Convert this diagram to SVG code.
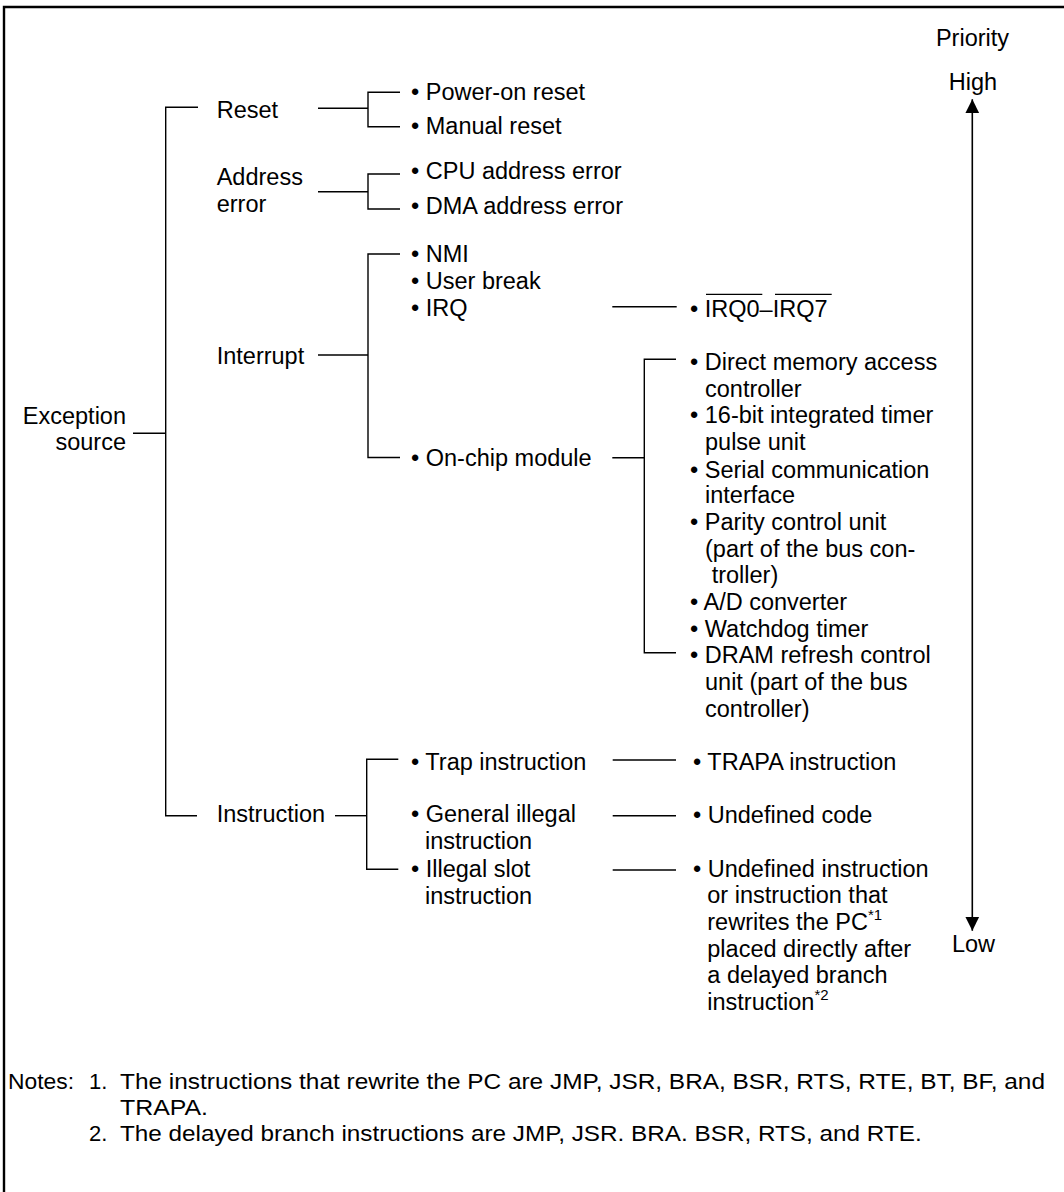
<svg xmlns="http://www.w3.org/2000/svg" width="1064" height="1192" viewBox="0 0 1064 1192">
<style>
text{font-family:"Liberation Sans",Arial,sans-serif;font-size:23.5px;fill:#000}
.n{font-size:22px}
.sup{font-size:15px}
.c line,.c polyline{stroke:#000;stroke-width:1.4;fill:none}
.ov{stroke:#000;stroke-width:1.3}
</style>
<defs>
<marker id="ah" viewBox="0 0 14 16" refX="14" refY="8" markerWidth="14" markerHeight="16" markerUnits="userSpaceOnUse" orient="auto">
<path d="M0,1 L14,8 L0,15 Z" fill="#000"/>
</marker>
</defs>
<rect x="0" y="0" width="1064" height="1192" fill="#fff"/>
<path d="M4,1192 V7 H1064" fill="none" stroke="#000" stroke-width="2.4"/>

<g class="c" id="connectors">
<polyline points="198,107.3 165.7,107.3 165.7,815.7 197,815.7"/>
<line x1="133" y1="433.3" x2="165.7" y2="433.3"/>
<line x1="318" y1="108.3" x2="368" y2="108.3"/>
<polyline points="400,92.3 368,92.3 368,126.7 400,126.7"/>
<line x1="318" y1="191.7" x2="368" y2="191.7"/>
<polyline points="400,174 368,174 368,209 400,209"/>
<line x1="318" y1="355" x2="368" y2="355"/>
<polyline points="400,254 368,254 368,457.5 400,457.5"/>
<line x1="612.3" y1="306.7" x2="676.7" y2="306.7"/>
<line x1="612.3" y1="457.7" x2="644.3" y2="457.7"/>
<polyline points="676,359.3 644.3,359.3 644.3,652.7 676,652.7"/>
<line x1="335" y1="815.7" x2="366.7" y2="815.7"/>
<polyline points="398.3,759.3 366.7,759.3 366.7,869.3 398.3,869.3"/>
<line x1="612.7" y1="760" x2="676" y2="760"/>
<line x1="612.7" y1="815.7" x2="676" y2="815.7"/>
<line x1="612.7" y1="870" x2="676" y2="870"/>
<line x1="972.3" y1="520" x2="972.3" y2="99.3" marker-end="url(#ah)" style="stroke-width:1.6"/>
<line x1="972.3" y1="520" x2="972.3" y2="930.7" marker-end="url(#ah)" style="stroke-width:1.6"/>
</g>

<g id="exception-source"><text x="126" y="424" text-anchor="end">Exception</text><text x="126" y="450" text-anchor="end">source</text></g>
<g id="reset"><text x="216.7" y="118.3">Reset</text></g>
<g id="address-error"><text x="216.7" y="185">Address</text><text x="216.7" y="211.7">error</text></g>
<g id="interrupt"><text x="216.7" y="364">Interrupt</text></g>
<g id="instruction"><text x="216.7" y="821.7">Instruction</text></g>

<g id="power-on-reset"><text x="411" y="100">• Power-on reset</text></g>
<g id="manual-reset"><text x="411" y="134.3">• Manual reset</text></g>
<g id="cpu-address-error"><text x="411" y="179.3">• CPU address error</text></g>
<g id="dma-address-error"><text x="411" y="214.3">• DMA address error</text></g>
<g id="nmi"><text x="411" y="262">• NMI</text></g>
<g id="user-break"><text x="411" y="289">• User break</text></g>
<g id="irq"><text x="411" y="316">• IRQ</text></g>
<g id="on-chip"><text x="411" y="465.5">• On-chip module</text></g>

<g id="irq0-7"><text x="690" y="316.7">• IRQ0–IRQ7</text>
<line class="ov" x1="706" y1="294.3" x2="762.3" y2="294.3"/><line class="ov" x1="775" y1="294.3" x2="831.7" y2="294.3"/></g>

<g id="modules">
<text x="690" y="370">• Direct memory access</text>
<text x="705" y="396.7">controller</text>
<text x="690" y="423.3">• 16-bit integrated timer</text>
<text x="705" y="450">pulse unit</text>
<text x="690" y="477.7">• Serial communication</text>
<text x="705" y="503.3">interface</text>
<text x="690" y="530">• Parity control unit</text>
<text x="705" y="556.7">(part of the bus con-</text>
<text x="711.7" y="583.3">troller)</text>
<text x="690" y="610">• A/D converter</text>
<text x="690" y="636.7">• Watchdog timer</text>
<text x="690" y="663.3">• DRAM refresh control</text>
<text x="705" y="690">unit (part of the bus</text>
<text x="705" y="716.7">controller)</text>
</g>

<g id="trap-instruction"><text x="411" y="770">• Trap instruction</text></g>
<g id="general-illegal"><text x="411" y="821.7">• General illegal</text><text x="425" y="849.3">instruction</text></g>
<g id="illegal-slot"><text x="411" y="876.7">• Illegal slot</text><text x="425" y="904.3">instruction</text></g>

<g id="trapa"><text x="693" y="770">• TRAPA instruction</text></g>
<g id="undefined-code"><text x="693" y="823.3">• Undefined code</text></g>
<g id="undefined-instruction">
<text x="693" y="877.3">• Undefined instruction</text>
<text x="707.3" y="903.3">or instruction that</text>
<text x="707.3" y="930">rewrites the PC<tspan class="sup" dy="-10">*1</tspan></text>
<text x="707.3" y="956.7">placed directly after</text>
<text x="707.3" y="983.3">a delayed branch</text>
<text x="707.3" y="1010">instruction<tspan class="sup" dy="-10">*2</tspan></text>
</g>

<g id="priority">
<text x="972.5" y="46" text-anchor="middle">Priority</text>
<text x="973" y="90" text-anchor="middle">High</text>
<text x="973.5" y="951.7" text-anchor="middle">Low</text>
</g>

<g id="notes">
<text class="n" x="8" y="1089" textLength="66" lengthAdjust="spacingAndGlyphs">Notes:</text>
<text class="n" x="89" y="1089">1.</text>
<text class="n" x="120" y="1089" textLength="925" lengthAdjust="spacingAndGlyphs">The instructions that rewrite the PC are JMP, JSR, BRA, BSR, RTS, RTE, BT, BF, and</text>
<text class="n" x="120" y="1115" textLength="88" lengthAdjust="spacingAndGlyphs">TRAPA.</text>
<text class="n" x="89" y="1141">2.</text>
<text class="n" x="120" y="1141" textLength="801.7" lengthAdjust="spacingAndGlyphs">The delayed branch instructions are JMP, JSR. BRA. BSR, RTS, and RTE.</text>
</g>
</svg>
